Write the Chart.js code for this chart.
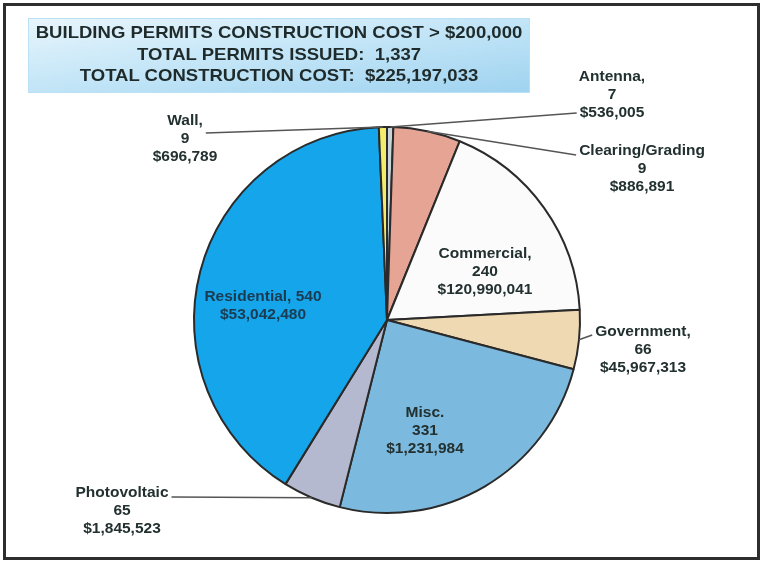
<!DOCTYPE html>
<html>
<head>
<meta charset="utf-8">
<script src="https://cdn.jsdelivr.net/npm/chart.js@4/dist/chart.umd.min.js"></script>
<style>
  body { margin: 0; background: #fff; }
  #wrap { position: relative; width: 760px; height: 561px; }
  #frame { position: absolute; left: 3px; top: 3px; width: 751px; height: 551px; border: 3px solid #2e2e2e; }
  #titleBox {
    position: absolute; left: 28px; top: 18px; width: 500px; height: 70px;
    border: 1px solid #b9e0f4;
    background: linear-gradient(172deg, #e8f5fc 0%, #c9e8f8 40%, #9fd3f0 100%);
    font: bold 17px "Liberation Sans", Arial, sans-serif; color: #1f2b2b;
    text-align: center; line-height: 21.7px; padding-top: 3px; box-sizing: content-box;
  }
  #titleText { transform: scaleX(1.09); transform-origin: 50% 50%; }
  canvas { position: absolute; left: 0; top: 0; }
</style>
</head>
<body>
<div id="wrap">
  <canvas id="chart" width="760" height="561"></canvas>
  <div id="frame"></div>
  <div id="titleBox"><div id="titleText">BUILDING PERMITS CONSTRUCTION COST &gt; $200,000<br>TOTAL PERMITS ISSUED:&nbsp; 1,337<br>TOTAL CONSTRUCTION COST:&nbsp; $225,197,033</div></div>
</div>
<script>
// categories in the order the slices run clockwise from 12 o'clock
var categories = ['Antenna', 'Clearing/Grading', 'Commercial', 'Government', 'Misc.', 'Photovoltaic', 'Residential', 'Wall'];
var permits = [7, 9, 240, 66, 331, 65, 540, 9];
var costs = [536005, 886891, 120990041, 45967313, 1231984, 1845523, 53042480, 696789];
// slice sizes as drawn (the Clearing/Grading wedge is drawn much larger than its count)
var sliceSize = [7, 75, 240, 66, 331, 65, 540, 9];

var colors = ['#c9d3dc', '#e6a494', '#fbfbfb', '#eed9b2', '#7bbade', '#b5b9cf', '#14a5ea', '#f2ec6a'];

// label layout: offset of text block centre from pie centre, leader start spot
var labelLayout = [
    { dx: 225, dy: -225, sep: ',', leader: { line: 2, side: 'left', dy: 0 } },
    { dx: 255, dy: -151, sep: '', leader: { line: 0, side: 'left', dy: 4 } },
    { dx: 98, dy: -48, sep: ',' },
    { dx: 256, dy: 30, sep: ',', leader: { line: 0, side: 'left', dy: 3 } },
    { dx: 38, dy: 111, sep: '' },
    { dx: -265, dy: 191, sep: '', leader: { line: 0, side: 'right', dy: 4 } },
    { dx: -124, dy: -14, sep: ',', inline: true, color: '#1b3b52' },
    { dx: -202, dy: -181, sep: ',', leader: { line: 0, side: 'right', dy: 12 } }
];

function money(v) {
    return '$' + v.toLocaleString('en-US');
}

function labelLines(i) {
    var lay = labelLayout[i];
    if (lay.inline) {
        return [categories[i] + lay.sep + ' ' + permits[i], money(costs[i])];
    }
    return [categories[i] + lay.sep, String(permits[i]), money(costs[i])];
}

var pieLabels = {
    id: 'pieLabels',
    afterDatasetsDraw(chart) {
        var ctx = chart.ctx;
        var meta = chart.getDatasetMeta(0);
        var lineH = 18;
        ctx.save();
        ctx.font = 'bold 15.5px "Liberation Sans", Arial, sans-serif';
        ctx.textAlign = 'center';
        ctx.textBaseline = 'middle';
        meta.data.forEach(function (arc, i) {
            var p = arc.getProps(['x', 'y', 'startAngle', 'endAngle', 'outerRadius'], true);
            var lay = labelLayout[i];
            var lines = labelLines(i);
            var cx = p.x + lay.dx;
            var cy = p.y + lay.dy;
            var top = cy - (lines.length - 1) / 2 * lineH;
            if (lay.leader) {
                var mid = (p.startAngle + p.endAngle) / 2;
                var ex = p.x + Math.cos(mid) * p.outerRadius;
                var ey = p.y + Math.sin(mid) * p.outerRadius;
                var w = ctx.measureText(lines[lay.leader.line]).width;
                var sx = lay.leader.side == 'left' ? cx - w / 2 - 3 : cx + w / 2 + 3;
                var sy = top + lay.leader.line * lineH + lay.leader.dy;
                ctx.strokeStyle = '#555';
                ctx.lineWidth = 1.5;
                ctx.beginPath();
                ctx.moveTo(sx, sy);
                ctx.lineTo(ex, ey);
                ctx.stroke();
            }
            ctx.fillStyle = lay.color || '#233030';
            lines.forEach(function (t, k) {
                ctx.fillText(t, cx, top + k * lineH);
            });
        });
        ctx.restore();
    }
};

var chart = new Chart(document.getElementById('chart'), {
    type: 'pie',
    data: {
        labels: categories,
        datasets: [{
            data: sliceSize,
            backgroundColor: colors,
            borderColor: '#2a2a2a',
            borderWidth: 2
        }]
    },
    options: {
        responsive: false,
        animation: false,
        layout: { padding: { left: 100, right: 86, top: 126, bottom: 47 } },
        plugins: {
            legend: { display: false },
            tooltip: { enabled: false }
        }
    },
    plugins: [pieLabels]
});
</script>
</body>
</html>
